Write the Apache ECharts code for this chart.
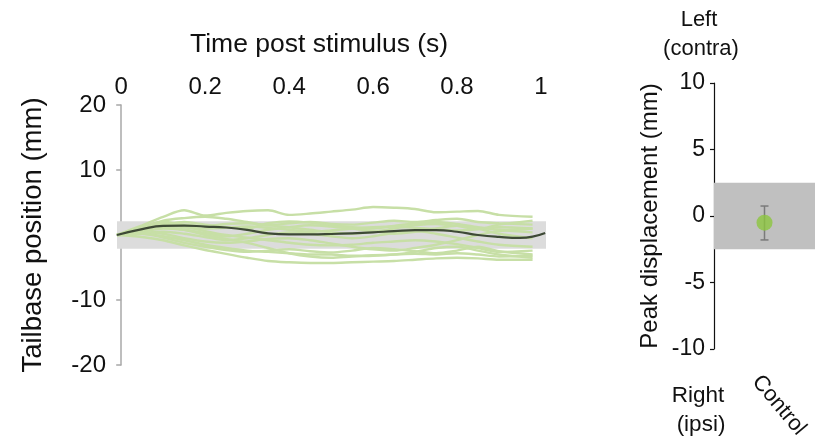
<!DOCTYPE html>
<html>
<head>
<meta charset="utf-8">
<script src="https://cdn.jsdelivr.net/npm/echarts@6/dist/echarts.min.js"></script>
<style>
  html, body { margin: 0; padding: 0; background: #fff; }
  #chart { width: 815px; height: 443px; }
</style>
</head>
<body>
<div id="chart"></div>
<script>
// Sample times (s) of the individual tailbase traces
const traceTime = [-0.01, 0.05, 0.1, 0.15, 0.2, 0.25, 0.3, 0.35, 0.4, 0.45, 0.5, 0.55, 0.6, 0.65, 0.7, 0.75, 0.8, 0.85, 0.9, 0.98];

// Individual trial traces, tailbase position (mm)
const trace01 = [0, 1.5, 2.8, 3.8, 3.0, 3.4, 3.7, 3.8, 3.1, 3.3, 3.6, 3.9, 4.3, 4.2, 4.0, 3.5, 3.6, 3.7, 3.1, 2.8];
const trace02 = [0, 1.2, 2.2, 2.6, 2.8, 2.5, 2.0, 1.5, 1.8, 2.0, 1.7, 1.6, 1.9, 2.2, 2.0, 2.3, 2.5, 2.0, 1.8, 1.6];
const trace03 = [0, 0.8, 1.5, 2.0, 1.6, 1.2, 1.0, 1.8, 2.1, 1.9, 1.5, 1.2, 1.0, 1.4, 1.8, 2.0, 1.7, 1.2, 0.8, 0.4];
const trace04 = [0, 0.5, 1.0, 0.8, 0.3, -0.2, 0.2, 0.8, 1.2, 1.5, 1.3, 1.0, 0.6, 0.2, 0.5, 1.0, 1.4, 1.0, 0.2, -0.5];
const trace05 = [0, 0.3, 0.5, 0.2, -0.3, -0.8, -0.5, 0.0, 0.4, 0.2, -0.2, -0.5, -0.2, 0.3, 0.6, 0.2, -0.4, -1.0, -1.5, -1.8];
const trace06 = [0, 0.2, -0.2, -0.8, -1.5, -2.0, -2.4, -2.6, -2.8, -3.0, -3.0, -3.2, -3.1, -3.0, -2.9, -3.0, -2.8, -3.0, -3.3, -3.2];
const trace07 = [0, -0.3, -0.8, -1.6, -2.3, -2.9, -3.5, -4.0, -4.2, -4.3, -4.3, -4.2, -4.1, -4.0, -3.8, -3.6, -3.5, -3.6, -3.8, -3.8];
const trace08 = [0, 0.6, 1.2, 0.8, 0.0, -0.6, -1.2, -2.0, -2.8, -3.3, -3.5, -3.3, -3.2, -3.0, -2.6, -2.0, -1.8, -2.4, -3.0, -3.5];
const trace09 = [0, 0.9, 1.8, 1.3, 0.6, 0.0, -0.4, -0.8, -1.2, -1.5, -1.6, -1.5, -1.2, -1.0, -0.8, -1.0, -1.4, -2.0, -2.6, -2.4];
const trace10 = [0, 1.0, 1.6, 1.2, 1.0, 1.1, 1.3, 1.1, 0.8, 0.5, 0.7, 1.0, 1.2, 1.3, 1.1, 0.9, 0.7, 0.9, 1.2, 1.0];
const trace11 = [0, 0.4, 0.2, -0.5, -1.0, -1.2, -1.0, -0.6, -0.5, -0.8, -1.3, -1.8, -2.2, -2.4, -2.0, -1.5, -0.8, 0.0, 0.6, 1.0];
const trace12 = [0, 1.2, 2.0, 1.6, 1.4, 1.7, 1.8, 1.5, 1.2, 0.8, 0.4, 0.2, 0.5, 1.0, 1.5, 1.7, 1.4, 0.9, 1.6, 2.2];
const trace13 = [0, 0.2, -0.4, -1.2, -1.8, -2.3, -2.6, -2.4, -2.2, -2.5, -2.7, -2.4, -2.0, -2.2, -2.5, -2.8, -2.4, -1.8, -2.5, -3.0];

// Mean trace
const meanTime = [-0.01, 0.05, 0.1, 0.15, 0.2, 0.25, 0.3, 0.35, 0.4, 0.45, 0.5, 0.55, 0.6, 0.65, 0.7, 0.75, 0.8, 0.85, 0.9, 0.95, 1.01];
const meanPosition = [0, 0.9, 1.4, 1.45, 1.3, 1.15, 0.8, 0.25, 0.1, 0.1, 0.15, 0.25, 0.4, 0.6, 0.75, 0.75, 0.5, 0.0, -0.3, -0.45, 0.3];

// Threshold bands (mm)
const leftBand = [-2.1, 2.1];
const rightBand = [-2.5, 2.5];

// Axis ticks
const timeTicks = [0, 0.2, 0.4, 0.6, 0.8, 1];

// Peak displacement summary
const groups = ['Control'];
const peakMean = [-0.5];
const peakHigh = [0.75];
const peakLow = [-1.8];

const traces = [trace01, trace02, trace03, trace04, trace05, trace06, trace07,
                trace08, trace09, trace10, trace11, trace12, trace13];

const FONT = 'Liberation Sans, Arial, sans-serif';
const chart = echarts.init(document.getElementById('chart'));

const series = [];
traces.forEach(function (tr, k) {
  const s = {
    type: 'line',
    xAxisIndex: 0, yAxisIndex: 0,
    data: traceTime.map(function (t, i) { return [t, tr[i]]; }),
    showSymbol: false,
    smooth: 0.3,
    silent: true,
    z: 3,
    lineStyle: { color: '#c7dfa6', width: 2.4 }
  };
  if (k === 0) {
    // grey band spanning the whole time axis
    s.markArea = {
      silent: true,
      z: 1,
      itemStyle: { color: '#dcdcdc' },
      data: [[{ yAxis: leftBand[1] }, { yAxis: leftBand[0] }]]
    };
  }
  series.push(s);
});

series.push({
  type: 'line',
  xAxisIndex: 0, yAxisIndex: 0,
  data: meanTime.map(function (t, i) { return [t, meanPosition[i]]; }),
  showSymbol: false,
  smooth: true,
  silent: true,
  z: 5,
  lineStyle: { color: '#3e4a36', width: 2.2 }
});

// Error bar for the peak displacement
series.push({
  type: 'custom',
  xAxisIndex: 1, yAxisIndex: 1,
  z: 4,
  silent: true,
  data: groups.map(function (g, i) { return [i, peakHigh[i], peakLow[i]]; }),
  renderItem: function (params, api) {
    const top = api.coord([api.value(0), api.value(1)]);
    const bot = api.coord([api.value(0), api.value(2)]);
    const w = 4;
    const st = { stroke: '#7a7a7a', lineWidth: 1.5 };
    return {
      type: 'group',
      children: [
        { type: 'line', shape: { x1: top[0], y1: top[1], x2: bot[0], y2: bot[1] }, style: st },
        { type: 'line', shape: { x1: top[0] - w, y1: top[1], x2: top[0] + w, y2: top[1] }, style: st },
        { type: 'line', shape: { x1: bot[0] - w, y1: bot[1], x2: bot[0] + w, y2: bot[1] }, style: st }
      ]
    };
  }
});

series.push({
  type: 'scatter',
  xAxisIndex: 1, yAxisIndex: 1,
  z: 6,
  silent: true,
  symbolSize: 16,
  itemStyle: { color: '#8cc63f' },
  data: groups.map(function (g, i) { return [g, peakMean[i]]; }),
  markArea: {
    silent: true,
    z: 1,
    itemStyle: { color: '#c0c0c0' },
    data: [[{ yAxis: rightBand[1] }, { yAxis: rightBand[0] }]]
  }
});

const option = {
  animation: false,
  backgroundColor: '#ffffff',
  textStyle: { fontFamily: FONT },
  grid: [
    { left: 117, right: 269, top: 105, bottom: 78, outerBoundsMode: 'none' },
    { left: 714, right: 0, top: 83, bottom: 94, outerBoundsMode: 'none' }
  ],
  xAxis: [
    {
      gridIndex: 0,
      type: 'value',
      position: 'top',
      min: -0.01,
      max: 1.012,
      axisLine: { show: false },
      axisTick: { show: false },
      splitLine: { show: false },
      axisLabel: {
        customValues: timeTicks,
        fontSize: 24,
        color: '#111',
        margin: 6,
        fontFamily: FONT
      }
    },
    {
      gridIndex: 1,
      type: 'category',
      data: groups,
      axisLine: { show: false },
      axisTick: { show: false },
      axisLabel: {
        rotate: -50,
        fontSize: 22,
        color: '#111',
        margin: 39,
        padding: [0, 0, 0, -13],
        fontFamily: FONT
      }
    }
  ],
  yAxis: [
    {
      gridIndex: 0,
      type: 'value',
      min: -20, max: 20, interval: 10,
      name: 'Tailbase position (mm)',
      nameLocation: 'middle',
      nameGap: 70,
      nameTextStyle: { fontSize: 27.5, color: '#111', fontFamily: FONT },
      axisLine: { show: true, lineStyle: { color: '#a8a8a8', width: 1.5 } },
      axisTick: { show: true, length: 5, lineStyle: { color: '#a8a8a8', width: 1.5 } },
      splitLine: { show: false },
      axisLabel: { fontSize: 24, color: '#111', margin: 11, fontFamily: FONT }
    },
    {
      gridIndex: 1,
      type: 'value',
      min: -10, max: 10, interval: 5,
      name: 'Peak displacement (mm)',
      nameLocation: 'middle',
      nameGap: 52,
      nameTextStyle: { fontSize: 24, color: '#111', fontFamily: FONT },
      axisLine: { show: true, lineStyle: { color: '#111', width: 1.2 } },
      axisTick: { show: true, length: 4, lineStyle: { color: '#111', width: 1.2 } },
      splitLine: { show: false },
      axisLabel: { fontSize: 23, color: '#111', margin: 9, fontFamily: FONT }
    }
  ],
  graphic: [
    { type: 'text', left: 190, top: 31, style: { text: 'Time post stimulus (s)', font: '26.5px ' + FONT, fill: '#111' } },
    { type: 'text', x: 699, y: 20, style: { text: 'Left', font: '22px ' + FONT, fill: '#111', textAlign: 'center', textVerticalAlign: 'middle' } },
    { type: 'text', x: 701, y: 49, style: { text: '(contra)', font: '22px ' + FONT, fill: '#111', textAlign: 'center', textVerticalAlign: 'middle' } },
    { type: 'text', x: 698, y: 396, style: { text: 'Right', font: '22.5px ' + FONT, fill: '#111', textAlign: 'center', textVerticalAlign: 'middle' } },
    { type: 'text', x: 701, y: 425, style: { text: '(ipsi)', font: '22.5px ' + FONT, fill: '#111', textAlign: 'center', textVerticalAlign: 'middle' } }
  ],
  series: series
};

chart.setOption(option);
</script>
</body>
</html>
